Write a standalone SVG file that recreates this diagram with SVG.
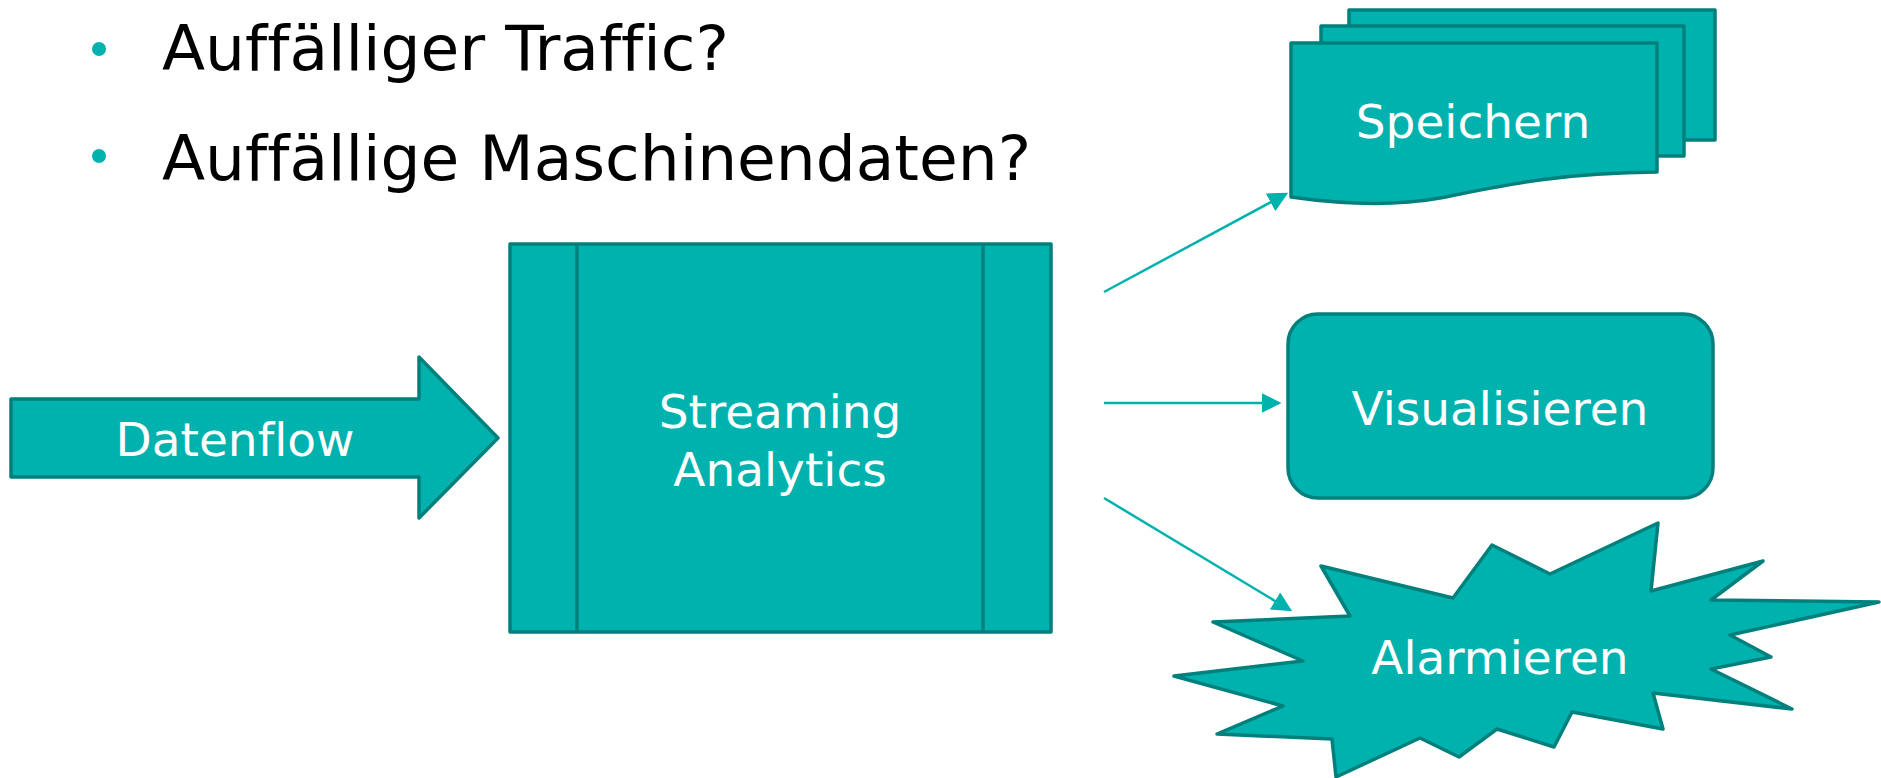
<svg xmlns="http://www.w3.org/2000/svg" width="1881" height="778" viewBox="0 0 1881 778">
<defs>
<style>
.shape{fill:#00B2AE;stroke:#00807C;stroke-width:3.5;stroke-linejoin:round}
.lbl{font-family:"DejaVu Sans",Verdana,sans-serif;font-size:47px;fill:#ffffff;text-anchor:middle;font-variant-ligatures:none}
.bul{font-family:"DejaVu Sans",Verdana,sans-serif;font-size:63px;fill:#000000;font-variant-ligatures:none}
.con{stroke:#00B2AE;stroke-width:2.5;fill:none}
</style>
<marker id="ah" markerWidth="8" markerHeight="8" refX="7" refY="4" orient="auto" markerUnits="strokeWidth">
<path d="M0,0 L8,4 L0,8 Z" fill="#00B2AE"/>
</marker>
</defs>
<rect width="1881" height="778" fill="#ffffff"/>
<g id="bullets">
<circle cx="99" cy="49" r="7" fill="#00B2AE"/>
<text class="bul" x="162" y="70">Auffälliger Traffic?</text>
<circle cx="99" cy="156" r="7" fill="#00B2AE"/>
<text class="bul" x="162" y="180">Auffällige Maschinendaten?</text>
</g>
<g id="datenflow">
<path class="shape" d="M11,399 H419 V357 L498,438 L419,518 V477 H11 Z"/>
<text class="lbl" x="235" y="456">Datenflow</text>
</g>
<g id="streaming">
<rect class="shape" x="510" y="244" width="541" height="388"/>
<line x1="577" y1="244" x2="577" y2="632" stroke="#00807C" stroke-width="3.5"/>
<line x1="983" y1="244" x2="983" y2="632" stroke="#00807C" stroke-width="3.5"/>
<text class="lbl" x="780" y="428">Streaming</text>
<text class="lbl" x="780" y="486">Analytics</text>
</g>
<g id="speichern">
<rect class="shape" x="1349" y="10" width="366" height="130"/>
<rect class="shape" x="1321" y="26" width="363" height="130"/>
<path class="shape" d="M1291,43 H1657 V172 C1560,173 1510,184 1440,198 C1390,207 1340,204 1291,197 Z"/>
<text class="lbl" x="1473" y="138">Speichern</text>
</g>
<g id="visualisieren">
<rect class="shape" x="1288" y="314" width="425" height="184" rx="30" ry="30"/>
<text class="lbl" x="1500" y="425">Visualisieren</text>
</g>
<g id="alarmieren">
<polygon class="shape" points="1321,566 1453,598 1492,545 1550,574 1658,523 1651,591 1763,561 1711,600 1879,602 1730,635 1771,657 1711,669 1792,709 1653,693 1663,729 1572,712 1554,747 1497,729 1459,757 1420,738 1336,777 1332,739 1217,734 1283,706 1174,676 1303,661 1213,622 1350,616"/>
<text class="lbl" x="1500" y="674">Alarmieren</text>
</g>
<g id="connectors">
<line class="con" x1="1104" y1="292" x2="1286" y2="194" marker-end="url(#ah)"/>
<line class="con" x1="1104" y1="403" x2="1279" y2="403" marker-end="url(#ah)"/>
<line class="con" x1="1104" y1="498" x2="1290" y2="610" marker-end="url(#ah)"/>
</g>
</svg>
